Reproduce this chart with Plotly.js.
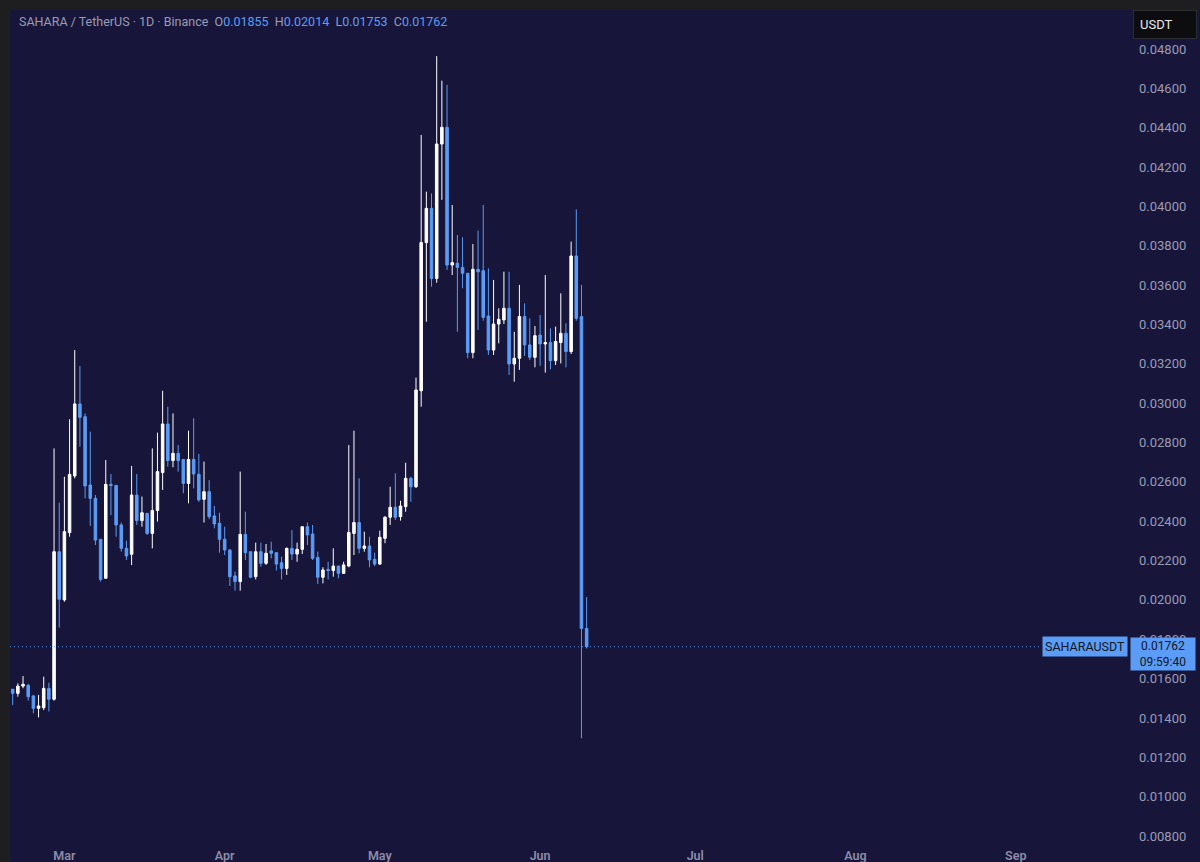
<!DOCTYPE html>
<html>
<head>
<meta charset="utf-8">
<script src="https://cdn.plot.ly/plotly-3.0.1.min.js"></script>
<style>
    html, body { margin: 0; padding: 0; background: #1e1e20; width: 1200px; height: 862px; overflow: hidden; }
    #chart { position: absolute; left: 10px; top: 10px; width: 1190px; height: 852px; }
</style>
</head>
<body>
<div id="chart"></div>
<script>
// SAHARA / TetherUS, 1D candles, Binance

const DATES = [
    "2025-02-19","2025-02-20","2025-02-21","2025-02-22","2025-02-23","2025-02-24","2025-02-25","2025-02-26",
    "2025-02-27","2025-02-28","2025-03-01","2025-03-02","2025-03-03","2025-03-04","2025-03-05","2025-03-06",
    "2025-03-07","2025-03-08","2025-03-09","2025-03-10","2025-03-11","2025-03-12","2025-03-13","2025-03-14",
    "2025-03-15","2025-03-16","2025-03-17","2025-03-18","2025-03-19","2025-03-20","2025-03-21","2025-03-22",
    "2025-03-23","2025-03-24","2025-03-25","2025-03-26","2025-03-27","2025-03-28","2025-03-29","2025-03-30",
    "2025-03-31","2025-04-01","2025-04-02","2025-04-03","2025-04-04","2025-04-05","2025-04-06","2025-04-07",
    "2025-04-08","2025-04-09","2025-04-10","2025-04-11","2025-04-12","2025-04-13","2025-04-14","2025-04-15",
    "2025-04-16","2025-04-17","2025-04-18","2025-04-19","2025-04-20","2025-04-21","2025-04-22","2025-04-23",
    "2025-04-24","2025-04-25","2025-04-26","2025-04-27","2025-04-28","2025-04-29","2025-04-30","2025-05-01",
    "2025-05-02","2025-05-03","2025-05-04","2025-05-05","2025-05-06","2025-05-07","2025-05-08","2025-05-09",
    "2025-05-10","2025-05-11","2025-05-12","2025-05-13","2025-05-14","2025-05-15","2025-05-16","2025-05-17",
    "2025-05-18","2025-05-19","2025-05-20","2025-05-21","2025-05-22","2025-05-23","2025-05-24","2025-05-25",
    "2025-05-26","2025-05-27","2025-05-28","2025-05-29","2025-05-30","2025-05-31","2025-06-01","2025-06-02",
    "2025-06-03","2025-06-04","2025-06-05","2025-06-06","2025-06-07","2025-06-08","2025-06-09","2025-06-10",
];

const OPEN = [
    0.01546,0.01525,0.01562,0.01566,0.01512,0.01449,0.01452,0.01550,
    0.01495,0.02245,0.02000,0.02342,0.02630,0.02996,0.02931,0.02584,
    0.02516,0.02308,0.02110,0.02587,0.02582,0.02381,0.02262,0.02232,
    0.02533,0.02403,0.02440,0.02338,0.02454,0.02647,0.02894,0.02708,
    0.02745,0.02714,0.02592,0.02714,0.02638,0.02511,0.02550,0.02427,
    0.02390,0.02308,0.02254,0.02122,0.02093,0.02333,0.02245,0.02118,
    0.02245,0.02186,0.02249,0.02240,0.02189,0.02160,0.02262,0.02233,
    0.02257,0.02372,0.02335,0.02216,0.02115,0.02155,0.02149,0.02172,
    0.02135,0.02172,0.02338,0.02393,0.02262,0.02274,0.02206,0.02182,
    0.02313,0.02420,0.02471,0.02423,0.02474,0.02618,0.02575,0.03063,
    0.03816,0.03990,0.03634,0.04317,0.04402,0.03702,0.03711,0.03690,
    0.03660,0.03257,0.03680,0.03673,0.03443,0.03270,0.03402,0.03423,
    0.03482,0.03199,0.03228,0.03440,0.03296,0.03233,0.03346,0.03301,
    0.03308,0.03216,0.03308,0.03355,0.03262,0.03748,0.03440,0.01855,
];

const HIGH = [
    0.01546,0.01576,0.01613,0.01573,0.01517,0.01517,0.01610,0.01579,
    0.02770,0.02494,0.02626,0.02918,0.03270,0.03189,0.02948,0.02855,
    0.02533,0.02308,0.02711,0.02640,0.02582,0.02393,0.02301,0.02681,
    0.02640,0.02525,0.02440,0.02770,0.02850,0.03063,0.02982,0.02948,
    0.02787,0.02714,0.02860,0.02923,0.02742,0.02703,0.02609,0.02477,
    0.02443,0.02372,0.02257,0.02144,0.02652,0.02448,0.02245,0.02291,
    0.02291,0.02284,0.02296,0.02240,0.02220,0.02266,0.02355,0.02291,
    0.02372,0.02393,0.02381,0.02245,0.02166,0.02194,0.02262,0.02172,
    0.02194,0.02787,0.02860,0.02618,0.02347,0.02321,0.02240,0.02352,
    0.02426,0.02575,0.02643,0.02504,0.02697,0.02626,0.03130,0.04363,
    0.04075,0.04066,0.04764,0.04639,0.04617,0.04007,0.03855,0.03843,
    0.03660,0.03809,0.03877,0.04007,0.03685,0.03626,0.03482,0.03668,
    0.03668,0.03363,0.03601,0.03507,0.03431,0.03392,0.03448,0.03651,
    0.03380,0.03389,0.03558,0.03406,0.03821,0.03985,0.03601,0.02014,
];

const LOW = [
    0.01466,0.01508,0.01551,0.01488,0.01424,0.01403,0.01440,0.01433,
    0.01488,0.01859,0.01991,0.02321,0.02618,0.02779,0.02516,0.02376,
    0.02279,0.02093,0.02110,0.02431,0.02321,0.02245,0.02203,0.02177,
    0.02381,0.02372,0.02330,0.02262,0.02398,0.02559,0.02677,0.02674,
    0.02652,0.02542,0.02491,0.02567,0.02499,0.02393,0.02410,0.02364,
    0.02240,0.02228,0.02071,0.02047,0.02047,0.02203,0.02110,0.02104,
    0.02169,0.02178,0.02211,0.02149,0.02104,0.02127,0.02203,0.02194,
    0.02233,0.02279,0.02203,0.02081,0.02084,0.02104,0.02118,0.02110,
    0.02132,0.02166,0.02228,0.02237,0.02245,0.02166,0.02172,0.02178,
    0.02288,0.02381,0.02406,0.02403,0.02448,0.02499,0.02569,0.02982,
    0.03414,0.03592,0.03612,0.04033,0.03677,0.03651,0.03363,0.03584,
    0.03228,0.03228,0.03372,0.03419,0.03245,0.03245,0.03304,0.03402,
    0.03143,0.03109,0.03169,0.03240,0.03219,0.03182,0.03189,0.03155,
    0.03172,0.03194,0.03202,0.03182,0.03250,0.03419,0.01297,0.01753,
];

const CLOSE = [
    0.01525,0.01562,0.01571,0.01508,0.01449,0.01461,0.01550,0.01495,
    0.02245,0.02003,0.02347,0.02638,0.02996,0.02928,0.02579,0.02516,
    0.02304,0.02104,0.02587,0.02582,0.02381,0.02262,0.02223,0.02533,
    0.02403,0.02443,0.02338,0.02454,0.02652,0.02894,0.02708,0.02745,
    0.02708,0.02592,0.02714,0.02640,0.02508,0.02550,0.02423,0.02386,
    0.02308,0.02254,0.02118,0.02093,0.02333,0.02240,0.02115,0.02245,
    0.02186,0.02237,0.02237,0.02182,0.02160,0.02262,0.02233,0.02257,
    0.02372,0.02330,0.02211,0.02115,0.02152,0.02149,0.02172,0.02135,
    0.02178,0.02343,0.02393,0.02262,0.02274,0.02203,0.02182,0.02318,
    0.02420,0.02471,0.02420,0.02477,0.02618,0.02575,0.03067,0.03816,
    0.03990,0.03634,0.04317,0.04402,0.03702,0.03714,0.03690,0.03660,
    0.03257,0.03680,0.03668,0.03436,0.03270,0.03402,0.03426,0.03482,
    0.03199,0.03228,0.03440,0.03296,0.03233,0.03343,0.03301,0.03308,
    0.03216,0.03313,0.03355,0.03262,0.03748,0.03431,0.01855,0.01762,
];

const SYMBOL = "SAHARAUSDT";
const TITLE = "SAHARA / TetherUS · 1D · Binance";
const COUNTDOWN = "09:59:40";
const QUOTE = "USDT";

const BG = "#17163a";
const UP = "#ffffff";
const DOWN = "#5b9cf6";
const AXIS_TXT = "#9a9bb4";
const TIME_TXT = "#8c8caa";
const FONT = "Roboto, 'Noto Sans', sans-serif";

// ── header legend (last bar OHLC) ──────────────────────────────────────────

const last = CLOSE.length - 1;
const fmt = (v) => v.toFixed(5);
const valColor = CLOSE[last] >= OPEN[last] ? UP : DOWN;
const ohlc = [["O", OPEN[last]], ["H", HIGH[last]], ["L", LOW[last]], ["C", CLOSE[last]]]
    .map(([k, v]) => `${k}<span style="color:${valColor}">${fmt(v)}</span>`)
    .join("  ");

const trace = {
    type: "candlestick",
    x: DATES,
    open: OPEN,
    high: HIGH,
    low: LOW,
    close: CLOSE,
    increasing: { line: { color: UP, width: 1 }, fillcolor: UP },
    decreasing: { line: { color: DOWN, width: 1 }, fillcolor: DOWN },
    whiskerwidth: 0,
    hoverinfo: "skip",
    showlegend: false,
};

const layout = {
    width: 1190,
    height: 852,
    paper_bgcolor: BG,
    plot_bgcolor: BG,
    font: { family: FONT, color: AXIS_TXT, size: 13 },
    margin: { l: 0, r: 70, t: 0, b: 20 },
    showlegend: false,
    xaxis: {
        type: "date",
        range: ["2025-02-18 11:30", "2025-09-23 02:00"],
        rangeslider: { visible: false },
        showgrid: false,
        zeroline: false,
        showline: false,
        ticks: "",
        dtick: "M1",
        tick0: "2025-01-01",
        tickformat: "%b",
        ticklabelstandoff: 4,
        tickfont: { family: FONT, size: 12.5, color: TIME_TXT, weight: 600 },
    },
    yaxis: {
        side: "right",
        range: [0.007695, 0.049982],
        dtick: 0.002,
        tick0: 0,
        tickformat: ".5f",
        showgrid: false,
        zeroline: false,
        showline: false,
        ticks: "",
        ticklabelstandoff: 8,
        tickfont: { family: FONT, size: 13, color: AXIS_TXT },
    },
    shapes: [
        {
            type: "line", xref: "paper", yref: "y",
            x0: 0, x1: 0.9196, y0: CLOSE[last], y1: CLOSE[last],
            line: { color: "rgba(91,156,246,0.9)", width: 1, dash: "1px,3px" },
        },
    ],
    annotations: [
        {
            xref: "paper", yref: "paper", x: 0, y: 1,
            xanchor: "left", yanchor: "middle", xshift: 7, yshift: -11,
            text: `${TITLE}  ${ohlc}`, showarrow: false,
            font: { family: FONT, size: 12.5, color: AXIS_TXT },
        },
        {
            xref: "paper", yref: "paper", x: 1, y: 1,
            xanchor: "left", yanchor: "top", xshift: 3, yshift: 0,
            text: QUOTE, showarrow: false, align: "left",
            bgcolor: "#0d0d10", bordercolor: "#2c2c33", borderwidth: 1, borderpad: 6,
            width: 50,
            font: { family: FONT, size: 13, color: "#e8e8ee" },
        },
        {
            xref: "paper", yref: "y", x: 0.9982, y: CLOSE[last],
            xanchor: "right", yanchor: "middle",
            text: SYMBOL, showarrow: false,
            bgcolor: DOWN, borderpad: 2,
            font: { family: FONT, size: 12.5, color: "#131722" },
        },
        {
            xref: "paper", yref: "y", x: 1, y: CLOSE[last],
            xanchor: "left", yanchor: "top", yshift: 9.5,
            text: `${fmt(CLOSE[last])}<br>${COUNTDOWN}`, showarrow: false, align: "center",
            bgcolor: DOWN, borderpad: 1, width: 62,
            font: { family: FONT, size: 12, color: "#131722" },
        },
    ],
};

Plotly.newPlot("chart", [trace], layout, { staticPlot: true, displayModeBar: false });
</script>
</body>
</html>
